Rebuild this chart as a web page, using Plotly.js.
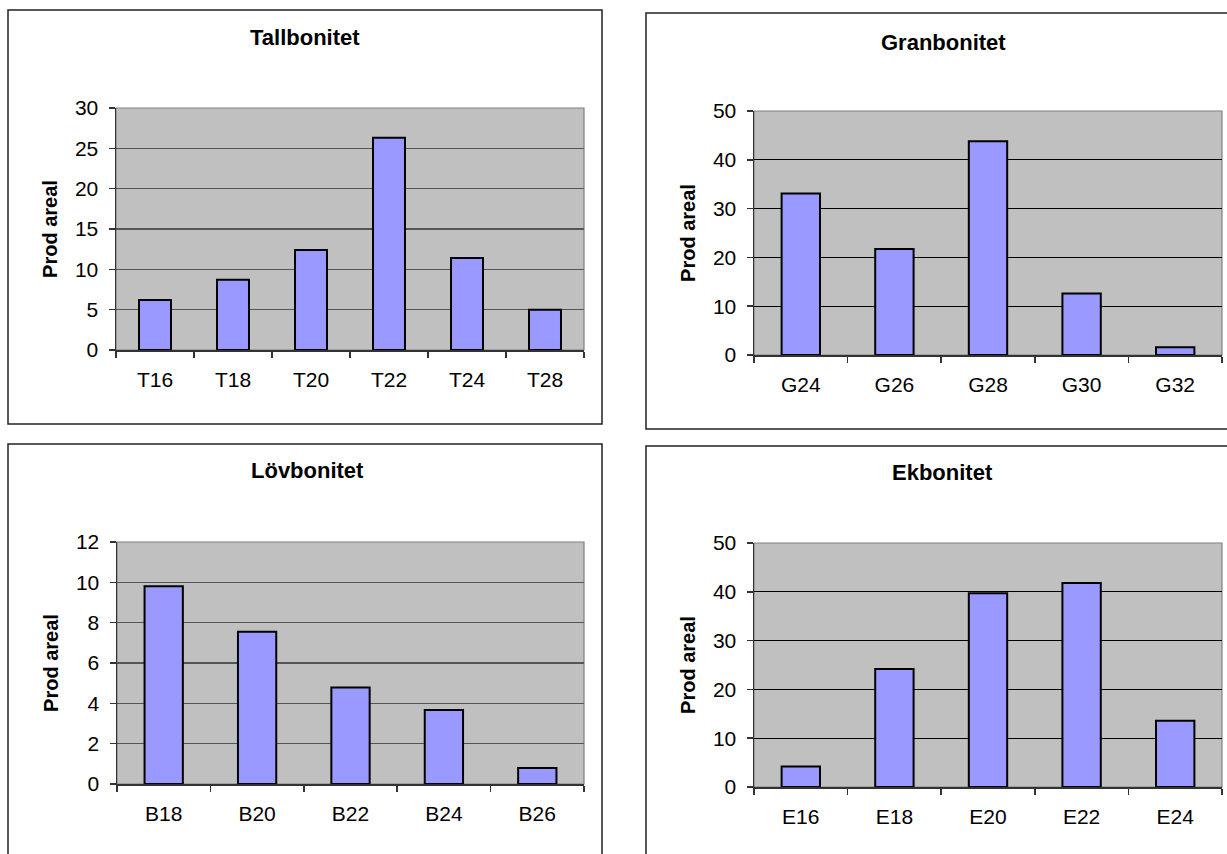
<!DOCTYPE html>
<html>
<head>
<meta charset="utf-8">
<script src="https://cdn.plot.ly/plotly-3.0.1.min.js"></script>
<style>
html,body{margin:0;padding:0;background:#fff;}
#chart{width:1227px;height:854px;}
</style>
</head>
<body>
<div id="chart"></div>
<script>
// ---- data ----
const chartTitles = ['Tallbonitet', 'Granbonitet', 'Lövbonitet', 'Ekbonitet'];
const yAxisTitle = 'Prod areal';

const tallCats = ['T16', 'T18', 'T20', 'T22', 'T24', 'T28'];
const tallVals = [6.2, 8.7, 12.4, 26.3, 11.4, 5.0];

const granCats = ['G24', 'G26', 'G28', 'G30', 'G32'];
const granVals = [33.1, 21.7, 43.8, 12.6, 1.6];

const lovCats = ['B18', 'B20', 'B22', 'B24', 'B26'];
const lovVals = [9.8, 7.55, 4.78, 3.67, 0.79];

const ekCats = ['E16', 'E18', 'E20', 'E22', 'E24'];
const ekVals = [4.2, 24.2, 39.7, 41.8, 13.6];

const yMax = [30, 50, 12, 50];
const yStep = [5, 10, 2, 10];

// ---- layout helpers ----
const W = 1227, H = 854;
const px = v => v / W;
const py = v => 1 - v / H;
const FONT = '"Liberation Sans", Arial, "DejaVu Sans", sans-serif';

const series = [
  {cats: tallCats, vals: tallVals},
  {cats: granCats, vals: granVals},
  {cats: lovCats, vals: lovVals},
  {cats: ekCats, vals: ekVals}
];

// plot areas [left, right, top, bottom] in pixels
const areas = [
  [116, 584, 108, 350],
  [754, 1222, 111, 355],
  [117, 584, 542, 784],
  [754, 1222, 543, 787]
];
// outer boxes [left, right, top, bottom]
const boxes = [
  [8, 602, 10, 424],
  [646, 1240, 13, 429],
  [8, 602, 444, 870],
  [646, 1240, 446, 870]
];
const titlePos = [[305, 37], [943, 42], [307, 471], [942, 473]];
const gridCol = ['#555555', '#000000', '#555555', '#000000'];
const gridW = [1.5, 1, 1.5, 1];

const traces = [];
const layout = {
  width: W, height: H,
  margin: {l: 0, r: 0, t: 0, b: 0},
  paper_bgcolor: '#ffffff',
  plot_bgcolor: '#C0C0C0',
  showlegend: false,
  bargap: 0.59,
  font: {family: FONT, size: 21, color: '#000'},
  shapes: [],
  annotations: []
};

series.forEach((s, i) => {
  const n = i + 1;
  const xa = 'x' + (n === 1 ? '' : n);
  const ya = 'y' + (n === 1 ? '' : n);
  traces.push({
    type: 'bar',
    x: s.cats,
    y: s.vals,
    xaxis: xa, yaxis: ya,
    marker: {color: '#9999FF', line: {color: '#000000', width: 2}},
    hoverinfo: 'x+y'
  });
  const a = areas[i];
  layout['xaxis' + (n === 1 ? '' : n)] = {
    domain: [px(a[0]), px(a[1])],
    anchor: ya,
    type: 'category',
    showgrid: false,
    showline: true, linecolor: '#333333', linewidth: 1.5,
    ticks: 'outside', tickson: 'boundaries', ticklen: 6, tickcolor: '#333333', tickwidth: 1.5,
    ticklabelstandoff: 10,
    tickfont: {family: FONT, size: 21, color: '#000'},
    fixedrange: true
  };
  layout['yaxis' + (n === 1 ? '' : n)] = {
    domain: [py(a[3]), py(a[2])],
    anchor: xa,
    range: [0, yMax[i]],
    dtick: yStep[i], tick0: 0,
    showgrid: true, gridcolor: gridCol[i], gridwidth: gridW[i],
    zeroline: false,
    showline: true, linecolor: '#333333', linewidth: 1.5,
    ticks: 'outside', ticklen: 6, tickcolor: '#333333', tickwidth: 1.5,
    ticklabelstandoff: 6,
    tickfont: {family: FONT, size: 21, color: '#000'},
    title: {text: yAxisTitle, font: {family: FONT, size: 20, color: '#000', weight: 'bold'}, standoff: 12},
    fixedrange: true
  };
  // top/right plot border
  layout.shapes.push({
    type: 'rect', xref: 'paper', yref: 'paper',
    x0: px(a[0]), x1: px(a[1]), y0: py(a[3]), y1: py(a[2]),
    line: {color: '#808080', width: 1.2}, fillcolor: 'rgba(0,0,0,0)', layer: 'below'
  });
  // outer chart box
  const b = boxes[i];
  layout.shapes.push({
    type: 'rect', xref: 'paper', yref: 'paper',
    x0: px(b[0]), x1: px(b[1]), y0: py(b[3]), y1: py(b[2]),
    line: {color: '#222222', width: 1.5}, fillcolor: 'rgba(0,0,0,0)', layer: 'below'
  });
  layout.annotations.push({
    text: '<b>' + chartTitles[i] + '</b>',
    xref: 'paper', yref: 'paper',
    x: px(titlePos[i][0]), y: py(titlePos[i][1]),
    xanchor: 'center', yanchor: 'middle', showarrow: false,
    font: {family: FONT, size: 22, color: '#000'}
  });
});

Plotly.newPlot('chart', traces, layout, {displayModeBar: false, staticPlot: true});
</script>
</body>
</html>
